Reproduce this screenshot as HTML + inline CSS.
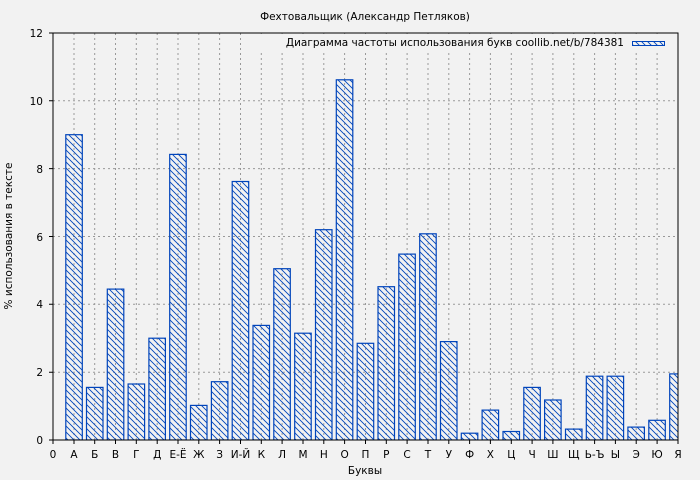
<!DOCTYPE html>
<html><head><meta charset="utf-8"><style>
body{margin:0;background:#f2f2f2}
svg{display:block;font-family:"DejaVu Sans","Liberation Sans",sans-serif}
</style></head><body>
<svg width="700" height="480" viewBox="0 0 700 480" xmlns="http://www.w3.org/2000/svg">
<defs>
<pattern id="h" patternUnits="userSpaceOnUse" width="6" height="6">
<path d="M-1,-1 L7,7 M-4,2 L2,8 M2,-4 L8,2" stroke="#0044bb" stroke-width="0.9"/>
</pattern>
<clipPath id="c"><rect x="53" y="33" width="625" height="407"/></clipPath>
</defs>
<rect width="700" height="480" fill="#f2f2f2"/>
<text x="365" y="20" font-size="10.5" text-anchor="middle" fill="#000">Фехтовальщик (Александр Петляков)</text>
<g stroke="#999" stroke-dasharray="2,3" stroke-width="1">
<line x1="53" x2="678" y1="372.2" y2="372.2"/><line x1="53" x2="678" y1="304.3" y2="304.3"/>
<line x1="53" x2="678" y1="236.5" y2="236.5"/><line x1="53" x2="678" y1="168.6" y2="168.6"/>
<line x1="53" x2="678" y1="100.8" y2="100.8"/>
<path d="M74,33V440M94.7,33V440M115.5,33V440M136.3,33V440M157.2,33V440M178,33V440M198.8,33V440M219.6,33V440M240.5,33V440M261.3,33V440M282.1,33V440M303,33V440M323.8,33V440M344.6,33V440M365.5,33V440M386.3,33V440M407.1,33V440M428,33V440M448.8,33V440M469.6,33V440M490.4,33V440M511.3,33V440M532.1,33V440M552.9,33V440M573.8,33V440M594.6,33V440M615.4,33V440M636.2,33V440M657.1,33V440"/>
</g>
<rect x="242" y="34" width="435" height="16" fill="#f2f2f2"/>
<g fill="url(#h)" stroke="#0044bb" stroke-width="1.2" clip-path="url(#c)">
<rect x="65.8" y="134.7" width="16.5" height="305.3"/>
<rect x="86.5" y="387.4" width="16.5" height="52.6"/>
<rect x="107.3" y="289.1" width="16.5" height="150.9"/>
<rect x="128.1" y="384" width="16.5" height="56"/>
<rect x="148.9" y="338.2" width="16.5" height="101.8"/>
<rect x="169.7" y="154.4" width="16.5" height="285.6"/>
<rect x="190.5" y="405.4" width="16.5" height="34.6"/>
<rect x="211.4" y="381.7" width="16.5" height="58.3"/>
<rect x="232.2" y="181.5" width="16.5" height="258.5"/>
<rect x="253" y="325.4" width="16.5" height="114.6"/>
<rect x="273.8" y="268.7" width="16.5" height="171.3"/>
<rect x="294.7" y="333.2" width="16.5" height="106.8"/>
<rect x="315.5" y="229.7" width="16.5" height="210.3"/>
<rect x="336.3" y="79.8" width="16.5" height="360.2"/>
<rect x="357.2" y="343.3" width="16.5" height="96.7"/>
<rect x="378" y="286.7" width="16.5" height="153.3"/>
<rect x="398.8" y="254.1" width="16.5" height="185.9"/>
<rect x="419.7" y="233.8" width="16.5" height="206.2"/>
<rect x="440.5" y="341.6" width="16.5" height="98.4"/>
<rect x="461.3" y="433.2" width="16.5" height="6.8"/>
<rect x="482.1" y="410.1" width="16.5" height="29.9"/>
<rect x="503" y="431.5" width="16.5" height="8.5"/>
<rect x="523.8" y="387.4" width="16.5" height="52.6"/>
<rect x="544.6" y="400" width="16.5" height="40"/>
<rect x="565.5" y="429.1" width="16.5" height="10.9"/>
<rect x="586.3" y="376.2" width="16.5" height="63.8"/>
<rect x="607.1" y="376.2" width="16.5" height="63.8"/>
<rect x="627.9" y="427.1" width="16.5" height="12.9"/>
<rect x="648.8" y="420.3" width="16.5" height="19.7"/>
<rect x="669.7" y="373.9" width="16.5" height="66.1"/>
</g>
<rect x="53" y="33" width="625" height="407" fill="none" stroke="#000" stroke-width="1"/>
<text x="624" y="46" font-size="10.5" text-anchor="end">Диаграмма частоты использования букв coollib.net/b/784381</text>
<rect x="632.5" y="41.5" width="32" height="4" fill="url(#h)" stroke="#0044bb"/>
<g stroke="#000"><path d="M49,33H53M49,100.8H53M49,168.6H53M49,236.5H53M49,304.3H53M49,372.2H53M49,440H53"/>
<path d="M53,440v4M74,440v4M94.7,440v4M115.5,440v4M136.3,440v4M157.2,440v4M178,440v4M198.8,440v4M219.6,440v4M240.5,440v4M261.3,440v4M282.1,440v4M303,440v4M323.8,440v4M344.6,440v4M365.5,440v4M386.3,440v4M407.1,440v4M428,440v4M448.8,440v4M469.6,440v4M490.4,440v4M511.3,440v4M532.1,440v4M552.9,440v4M573.8,440v4M594.6,440v4M615.4,440v4M636.2,440v4M657.1,440v4M678,440v4"/></g>
<g font-size="10.5" text-anchor="end">
<text x="43" y="37">12</text><text x="43" y="105">10</text><text x="43" y="173">8</text><text x="43" y="241">6</text><text x="43" y="308">4</text><text x="43" y="376">2</text><text x="43" y="444">0</text>
</g>
<g font-size="10.5" text-anchor="middle">
<text x="53" y="458">0</text><text x="74" y="458">А</text><text x="94.7" y="458">Б</text><text x="115.5" y="458">В</text><text x="136.3" y="458">Г</text><text x="157.2" y="458">Д</text><text x="178" y="458">Е-Ё</text><text x="198.8" y="458">Ж</text><text x="219.6" y="458">З</text><text x="240.5" y="458">И-Й</text><text x="261.3" y="458">К</text><text x="282.1" y="458">Л</text><text x="303" y="458">М</text><text x="323.8" y="458">Н</text><text x="344.6" y="458">О</text><text x="365.5" y="458">П</text><text x="386.3" y="458">Р</text><text x="407.1" y="458">С</text><text x="428" y="458">Т</text><text x="448.8" y="458">У</text><text x="469.6" y="458">Ф</text><text x="490.4" y="458">Х</text><text x="511.3" y="458">Ц</text><text x="532.1" y="458">Ч</text><text x="552.9" y="458">Ш</text><text x="573.8" y="458">Щ</text><text x="594.6" y="458">Ь-Ъ</text><text x="615.4" y="458">Ы</text><text x="636.2" y="458">Э</text><text x="657.1" y="458">Ю</text><text x="678" y="458">Я</text>
<text x="365" y="474">Буквы</text>
<text transform="translate(12,236) rotate(-90)">% использования в тексте</text>
</g>
</svg>
</body></html>
